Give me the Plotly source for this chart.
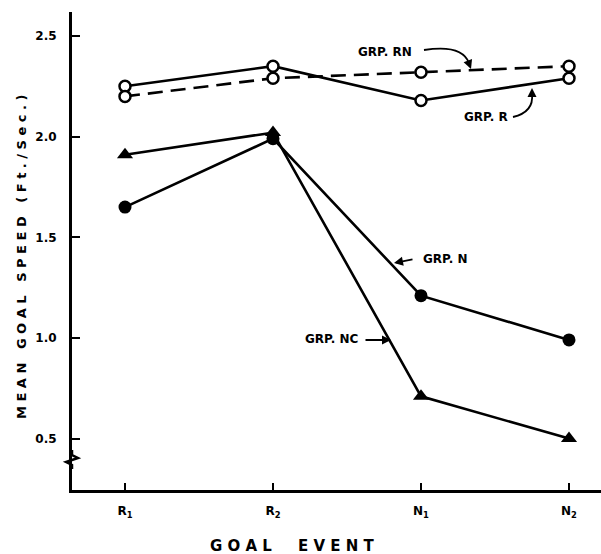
import plotly.graph_objects as go

# ---- data ----
goal_events = ["R<sub>1</sub>", "R<sub>2</sub>", "N<sub>1</sub>", "N<sub>2</sub>"]
grp_r = [2.25, 2.35, 2.18, 2.29]
grp_rn = [2.20, 2.29, 2.32, 2.35]
grp_n = [1.65, 1.99, 1.21, 0.99]
grp_nc = [1.91, 2.02, 0.71, 0.50]
y_ticks = [0.5, 1.0, 1.5, 2.0, 2.5]
y_tick_labels = ["0.5", "1.0", "1.5", "2.0", "2.5"]

W, H = 601, 554
L, R, T, B = 72, 0, 12, 64
X0_PX, X_STEP = 125, 148
Y25_PX, Y_UNIT = 36, 201.3

def px2x(px):
    return (px - X0_PX) / X_STEP

def py2y(py):
    return 2.5 - (py - Y25_PX) / Y_UNIT

def pxp(px):
    return (px - L) / (W - L - R)

def pyp(py):
    return (H - B - py) / (H - T - B)

xs = list(range(len(goal_events)))
FONT = "DejaVu Sans"

fig = go.Figure()
lw = 2.6
fig.add_trace(go.Scatter(x=xs, y=grp_r, mode="lines+markers", name="GRP. R",
                         line=dict(color="black", width=lw),
                         marker=dict(symbol="circle", size=11, color="white",
                                     line=dict(color="black", width=2.5))))
fig.add_trace(go.Scatter(x=xs, y=grp_rn, mode="lines+markers", name="GRP. RN",
                         line=dict(color="black", width=lw, dash="15px,8px"),
                         marker=dict(symbol="circle", size=11, color="white",
                                     line=dict(color="black", width=2.5))))
fig.add_trace(go.Scatter(x=xs, y=grp_n, mode="lines+markers", name="GRP. N",
                         line=dict(color="black", width=lw),
                         marker=dict(symbol="circle", size=13, color="black")))
fig.add_trace(go.Scatter(x=xs, y=grp_nc, mode="lines+markers", name="GRP. NC",
                         line=dict(color="black", width=lw),
                         marker=dict(symbol="triangle-up", size=14, color="black")))

x_range = [px2x(L), px2x(W - R)]
y_range = [py2y(H - B), py2y(T)]

tick_font = dict(family=FONT, size=12, color="black", weight="bold")
fig.update_xaxes(range=x_range, tickmode="array", tickvals=xs, ticktext=goal_events,
                 showline=True, linecolor="black", linewidth=3,
                 ticks="inside", ticklen=7, tickwidth=2, tickcolor="black",
                 showgrid=False, zeroline=False, ticklabelstandoff=8,
                 tickfont=tick_font)
fig.update_yaxes(range=y_range, tickmode="array", tickvals=y_ticks, ticktext=y_tick_labels,
                 showline=True, linecolor="black", linewidth=3,
                 ticks="inside", ticklen=8, tickwidth=2, tickcolor="black",
                 showgrid=False, zeroline=False, ticklabelstandoff=10,
                 tickfont=tick_font)

ann_font = dict(family=FONT, size=12, color="black", weight="bold")
annotations = [
    dict(x=px2x(385), y=py2y(52), text="GRP. RN", showarrow=False, font=ann_font),
    dict(x=px2x(486), y=py2y(117), text="GRP. R", showarrow=False, font=ann_font),
    dict(x=px2x(445), y=py2y(259), text="GRP. N", showarrow=False, font=ann_font),
    dict(x=px2x(331), y=py2y(339), text="GRP. NC", showarrow=False, font=ann_font),
    # arrow heads
    dict(x=px2x(471), y=py2y(69), ax=-3, ay=-8, text="", showarrow=True,
         arrowhead=2, arrowsize=1, arrowwidth=1.8, arrowcolor="black"),
    dict(x=px2x(532), y=py2y(88), ax=0, ay=8, text="", showarrow=True,
         arrowhead=2, arrowsize=1, arrowwidth=1.8, arrowcolor="black"),
    dict(x=px2x(394), y=py2y(263), ax=20, ay=-4, text="", showarrow=True,
         arrowhead=2, arrowsize=1, arrowwidth=1.8, arrowcolor="black"),
    dict(x=px2x(391), y=py2y(340), ax=-27, ay=0, text="", showarrow=True,
         arrowhead=2, arrowsize=1, arrowwidth=1.8, arrowcolor="black"),
    # axis titles
    dict(xref="paper", yref="paper", x=pxp(292), y=pyp(546),
         text="G O A L     E V E N T", showarrow=False,
         font=dict(family=FONT, size=15, color="black", weight="bold"),
         xanchor="center", yanchor="middle"),
    dict(xref="paper", yref="paper", x=pxp(21), y=pyp(257),
         text="M E A N   G O A L   S P E E D   ( F t . / S e c . )", showarrow=False,
         textangle=-90, font=dict(family=FONT, size=13, color="black", weight="bold"),
         xanchor="center", yanchor="middle"),
]

def P(px, py):
    return f"{px2x(px):.4f},{py2y(py):.4f}"

def PP(px, py):
    return f"{pxp(px):.4f},{pyp(py):.4f}"

shapes = [
    # curved leader lines
    dict(type="path", path=f"M {P(424,50)} Q {P(462,44)} {P(469,63)}",
         line=dict(color="black", width=1.8)),
    dict(type="path", path=f"M {P(513,117)} Q {P(534,112)} {P(532,94)}",
         line=dict(color="black", width=1.8)),
    # axis break mark
    dict(type="path", xref="paper", yref="paper",
         path=f"M {PP(72,450)} L {PP(72,455)} L {PP(78,458)} L {PP(66,462)} L {PP(72,465)} L {PP(72,469)}",
         line=dict(color="black", width=2.5)),
]

fig.update_layout(width=W, height=H, margin=dict(l=L, r=R, t=T, b=B),
                  plot_bgcolor="white", paper_bgcolor="white", showlegend=False,
                  annotations=annotations, shapes=shapes)

fig.write_html("out.html", config={"displayModeBar": False},
               post_script="document.body.style.margin='0';document.body.style.overflow='hidden';")
